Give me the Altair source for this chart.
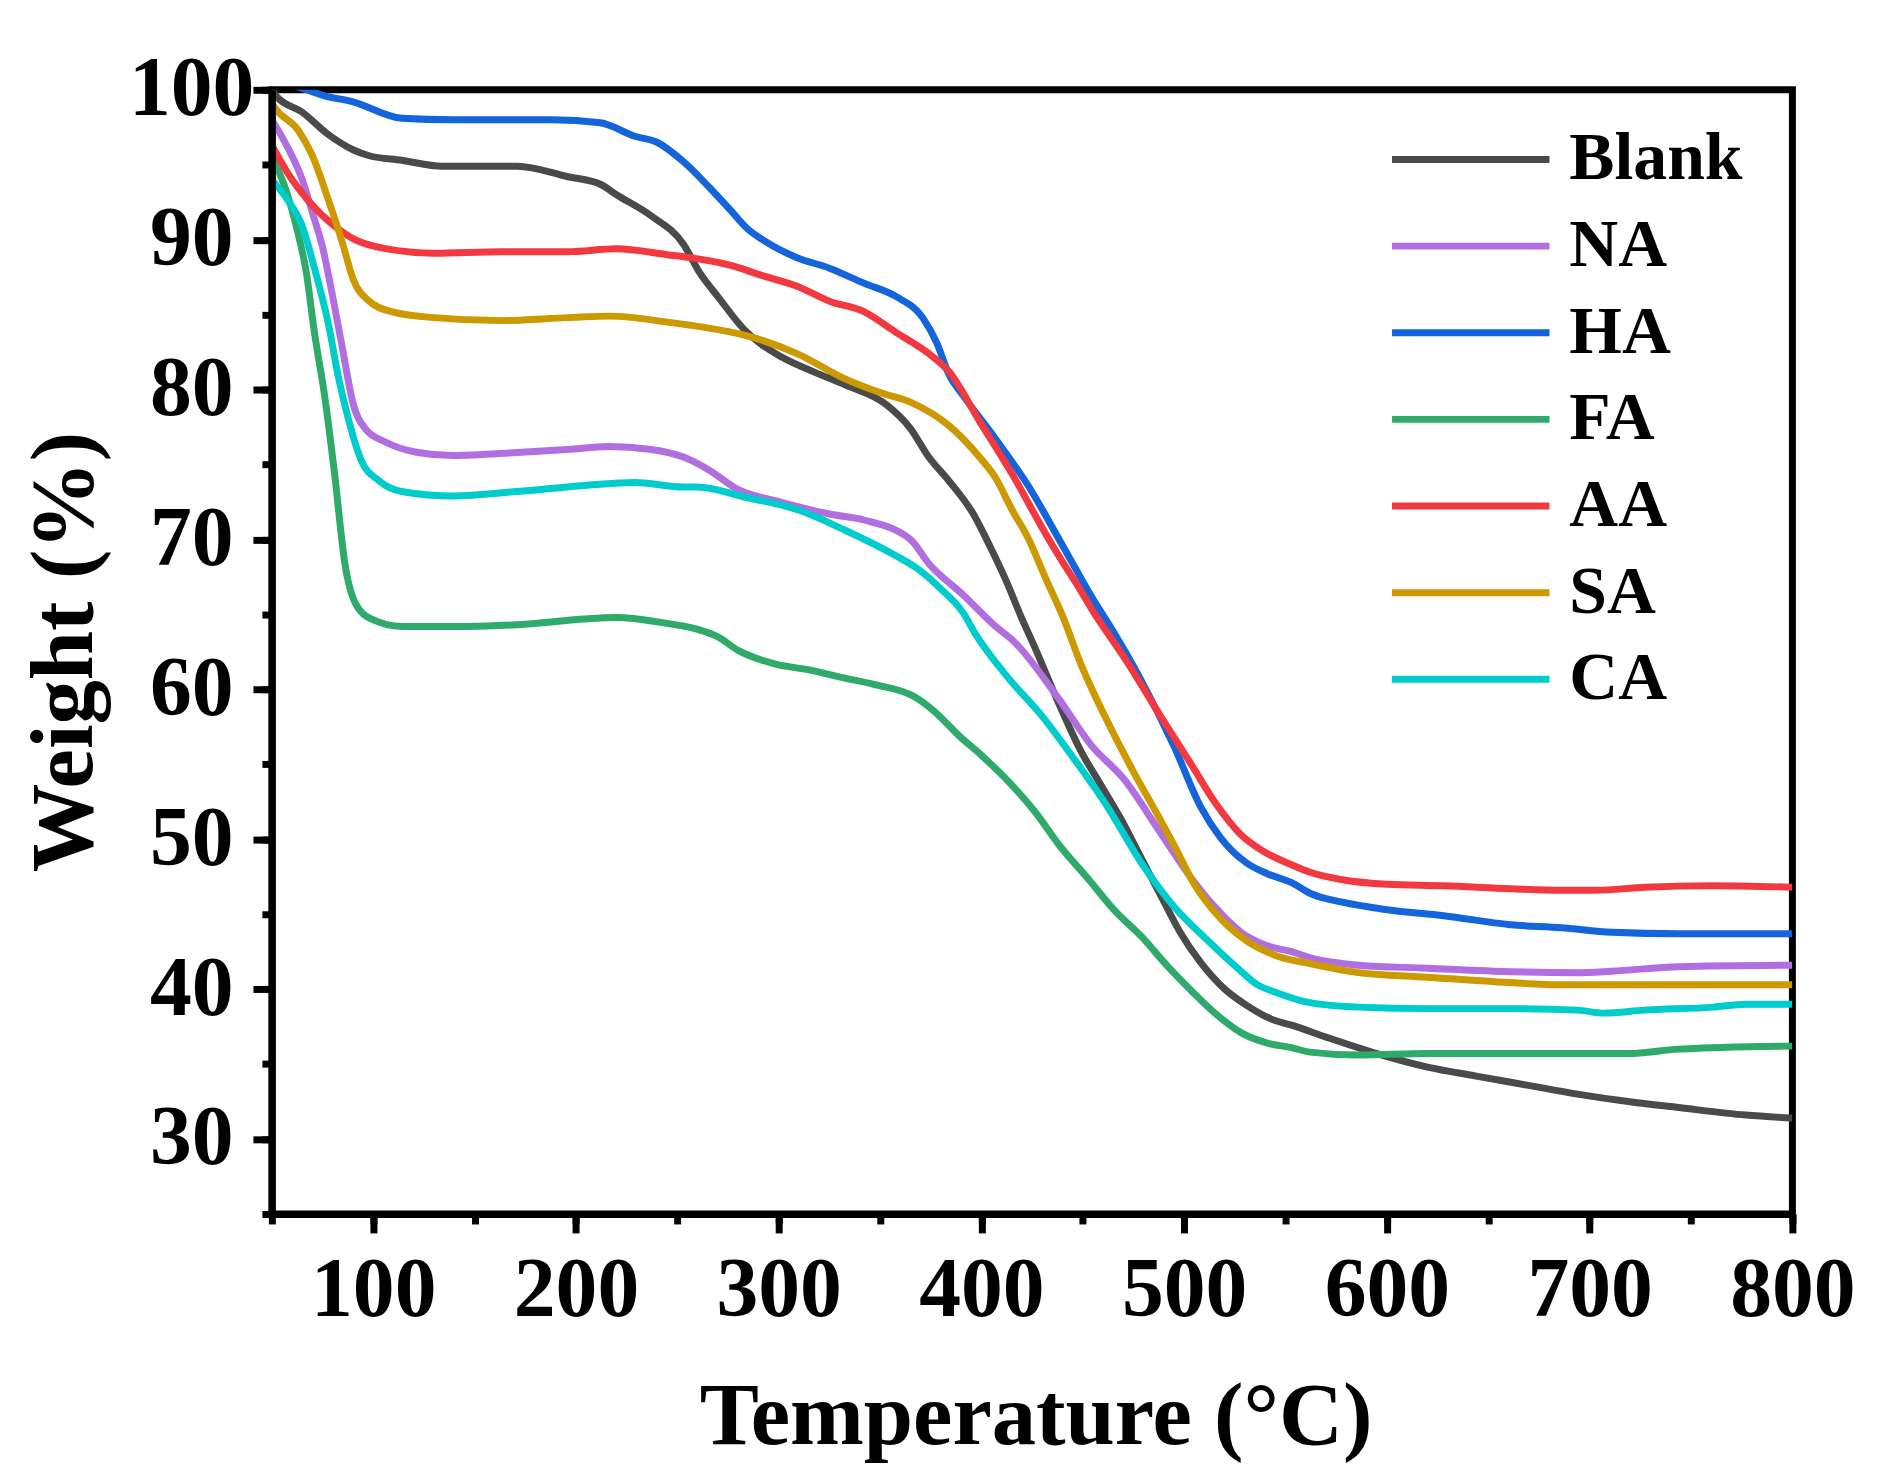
import pandas as pd
import altair as alt

# series names and colours, legend order
series = ["Blank", "NA", "HA", "FA", "AA", "SA", "CA"]
colors = ["#4a4a4a", "#b06ee0", "#1464dc", "#2eaa6a", "#f2393f", "#cc9900", "#00cccc"]

# TGA curves: temperature (°C) / weight (%)
blank_t = [50, 52, 65, 78, 90, 98, 114, 134, 171, 196, 212, 220, 237, 253, 261, 270, 283,
           301, 317, 333, 353, 365, 374, 384, 396, 404, 412, 420, 426, 438, 449, 459, 469,
           479, 489, 498, 508, 520, 531, 543, 553, 570, 595, 620, 644, 669, 694, 719, 744,
           777, 800]
blank_w = [100.1, 99.6, 98.5, 97.0, 96.0, 95.6, 95.3, 94.9, 94.9, 94.2, 93.7, 93.0, 91.6,
           89.7, 87.8, 86.2, 84.0, 82.2, 81.2, 80.3, 79.0, 77.4, 75.5, 73.9, 71.7, 69.6,
           67.3, 64.7, 62.9, 59.1, 55.9, 53.6, 51.3, 48.7, 46.1, 43.8, 41.8, 40.0, 38.9,
           38.0, 37.6, 36.8, 35.7, 34.8, 34.2, 33.6, 33.0, 32.5, 32.1, 31.6, 31.4]

na_t = [50, 58, 65, 70, 75, 80, 85, 90, 96, 106, 122, 139, 171, 196, 216, 237, 253, 266,
        279, 301, 325, 342, 365, 374, 391, 407, 416, 438, 454, 471, 487, 503, 515, 528,
        541, 553, 562, 586, 620, 653, 694, 711, 744, 800]
na_w = [98.0, 96.1, 94.0, 91.8, 89.5, 86.2, 82.6, 79.1, 77.4, 76.5, 75.8, 75.6, 75.8, 76.0,
        76.2, 76.0, 75.5, 74.6, 73.4, 72.5, 71.7, 71.3, 70.0, 68.4, 66.3, 64.2, 63.2, 59.4,
        56.3, 53.9, 50.7, 47.5, 45.5, 43.8, 42.9, 42.5, 42.1, 41.6, 41.4, 41.2, 41.1, 41.2,
        41.5, 41.6]

ha_t = [50, 60, 76, 90, 114, 139, 163, 188, 212, 229, 240, 253, 265, 276, 284, 292,
        309, 325, 342, 358, 371, 378, 384, 391, 407, 423, 440, 456, 463, 478, 495, 508,
        518, 531, 541, 553, 562, 578, 600, 628, 661, 686, 711, 744, 800]
ha_w = [100.6, 100.3, 99.6, 99.2, 98.1, 98.0, 98.0, 98.0, 97.8, 96.9, 96.5, 95.2,
        93.6, 92.0, 90.8, 90.0, 88.8, 88.1, 87.1, 86.2, 84.8, 83.1, 81.0, 79.6, 76.7, 73.6,
        69.6, 65.8, 64.3, 60.8, 56.2, 52.2, 50.1, 48.4, 47.7, 47.1, 46.4, 45.8, 45.3, 44.9,
        44.3, 44.1, 43.8, 43.7, 43.7]

fa_t = [50, 57, 62, 67, 71, 76, 81, 86, 91, 99, 114, 147, 180, 204, 220, 245, 260, 270,
        280, 298, 315, 331, 348, 367, 377, 389, 400, 413, 426, 439, 453, 466, 479, 492,
        505, 516, 528, 541, 553, 562, 586, 620, 653, 694, 719, 744, 800]
fa_w = [95.5, 93.3, 90.9, 87.8, 83.8, 79.6, 74.3, 68.4, 65.8, 64.7, 64.2, 64.2, 64.4, 64.7,
        64.8, 64.4, 64.0, 63.5, 62.6, 61.7, 61.3, 60.8, 60.3, 59.5, 58.5, 56.9, 55.6, 53.9,
        51.9, 49.5, 47.3, 45.2, 43.5, 41.5, 39.7, 38.3, 37.1, 36.4, 36.1, 35.8, 35.6, 35.7,
        35.7, 35.7, 35.7, 36.0, 36.2]

aa_t = [50, 58, 68, 81, 91, 106, 130, 163, 196, 220, 245, 261, 276, 292, 309, 325, 342,
        358, 374, 384, 399, 415, 432, 440, 448, 456, 464, 471, 487, 503, 516, 528, 539,
        553, 562, 578, 600, 628, 661, 686, 703, 727, 761, 800]
aa_w = [96.3, 94.4, 92.6, 90.9, 90.0, 89.4, 89.1, 89.2, 89.2, 89.4, 89.0, 88.7, 88.3, 87.6,
        86.9, 85.9, 85.2, 83.8, 82.4, 81.2, 77.9, 74.4, 70.3, 68.5, 66.8, 65.0, 63.4, 62.0,
        58.5, 55.1, 52.3, 50.3, 49.2, 48.3, 47.8, 47.3, 47.0, 46.9, 46.7, 46.6, 46.6, 46.8,
        46.9, 46.8]

sa_t = [50, 52, 63, 70, 78, 85, 90, 98, 109, 130, 163, 196, 217, 245, 261, 284, 309, 333,
        350, 366, 383, 399, 407, 415, 423, 432, 440, 449, 462, 475, 487, 495, 505, 518,
        531, 544, 562, 586, 620, 653, 686, 727, 800]
sa_w = [99.1, 98.7, 97.3, 95.6, 92.6, 89.7, 87.4, 85.9, 85.2, 84.8, 84.6, 84.8, 84.9, 84.5,
        84.2, 83.6, 82.4, 80.7, 79.8, 79.1, 77.7, 75.5, 74.1, 72.0, 70.1, 67.3, 64.9, 61.7,
        57.9, 54.5, 51.6, 49.6, 47.0, 44.7, 43.2, 42.3, 41.7, 41.1, 40.8, 40.5, 40.3, 40.3,
        40.3]

ca_t = [50, 58, 65, 71, 78, 83, 88, 94, 103, 114, 139, 171, 204, 229, 253, 260, 284, 309,
        333, 358, 369, 380, 391, 397, 413, 430, 446, 462, 479, 495, 512, 528, 536, 545,
        562, 586, 620, 661, 694, 707, 727, 761, 777, 800]
ca_w = [94.0, 92.6, 90.9, 88.1, 84.3, 80.7, 77.9, 75.3, 73.9, 73.2, 72.9, 73.2, 73.6, 73.8,
        73.5, 73.5, 72.8, 72.0, 70.6, 68.9, 68.0, 66.7, 65.1, 63.7, 60.8, 58.2, 55.3, 52.2,
        48.4, 45.5, 43.2, 41.2, 40.3, 39.8, 39.1, 38.8, 38.7, 38.7, 38.6, 38.4, 38.6, 38.8,
        39.0, 39.0]

curves = [(blank_t, blank_w), (na_t, na_w), (ha_t, ha_w), (fa_t, fa_w),
          (aa_t, aa_w), (sa_t, sa_w), (ca_t, ca_w)]

rows = []
for name, (ts, ws) in zip(series, curves):
    for t, w in zip(ts, ws):
        rows.append({"series": name, "temp": t, "weight": w})
df = pd.DataFrame(rows)

FONT = "Liberation Serif"

x_scale = alt.Scale(domain=[50, 800], nice=False, zero=False)
y_scale = alt.Scale(domain=[25, 100], nice=False, zero=False)

# minor ticks (every 50 / every 5), drawn through an invisible layer
minor = alt.Chart(df).mark_point(opacity=0).encode(
    x=alt.X("temp:Q", scale=x_scale,
            axis=alt.Axis(orient="bottom", values=list(range(50, 801, 50)), tickSize=10,
                          labels=False, domain=False, title=None, zindex=1)),
    y=alt.Y("weight:Q", scale=y_scale,
            axis=alt.Axis(orient="left", values=list(range(25, 101, 5)), tickSize=10,
                          labels=False, domain=False, title=None, zindex=1)),
)

lines = alt.Chart(df).mark_line(strokeWidth=7, interpolate="monotone", clip=True).encode(
    x=alt.X("temp:Q", scale=x_scale,
            axis=alt.Axis(orient="bottom", values=list(range(100, 801, 100)), tickSize=19,
                          labelPadding=58, labelBaseline="middle", labelFlush=False,
                          labelOverlap=False, title="Temperature (°C)",
                          titleX=767, titleY=230, titleAlign="center",
                          titleBaseline="alphabetic", zindex=1)),
    y=alt.Y("weight:Q", scale=y_scale,
            axis=alt.Axis(orient="left", values=list(range(30, 101, 10)), tickSize=19,
                          labelAlign="center", labelBaseline="middle", labelPadding=62,
                          labelOverlap=False, title="Weight (%)",
                          titleX=-181, titleY=564, titleAngle=270, titleAlign="center",
                          titleBaseline="alphabetic", zindex=1)),
    color=alt.Color("series:N", sort=series,
                    scale=alt.Scale(domain=series, range=colors),
                    legend=alt.Legend(orient="none", legendX=1170, legendY=36, title=None,
                                      padding=0, symbolType="M-5,0H5", symbolSize=1000,
                                      symbolStrokeWidth=7, labelOffset=65, rowPadding=19,
                                      labelFont=FONT, labelFontSize=68,
                                      labelFontWeight="bold", labelColor="black",
                                      labelLimit=0)),
)

chart = alt.layer(minor, lines).resolve_axis(
    x="independent", y="independent"
).properties(
    width=1527,
    height=1129,
    autosize=alt.AutoSizeParams(type="none"),
    padding={"left": 265, "top": 79, "right": 93, "bottom": 263},
).configure_view(
    stroke="black",
    strokeWidth=7,
).configure_axis(
    labelFont=FONT,
    labelFontSize=84,
    labelFontWeight="bold",
    labelColor="black",
    titleFont=FONT,
    titleFontSize=89,
    titleFontWeight="bold",
    titleColor="black",
    domainColor="black",
    domainWidth=7,
    tickColor="black",
    tickWidth=7,
    grid=False,
)

chart.save("out.html", embed_options={"renderer": "svg", "actions": False})
